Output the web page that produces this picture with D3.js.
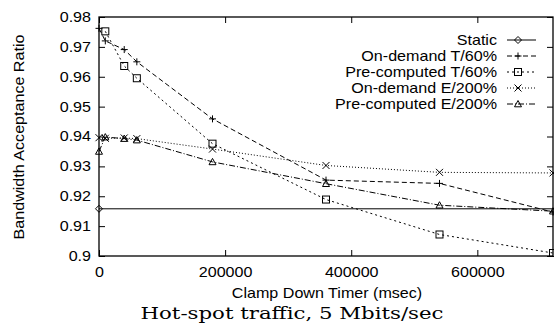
<!DOCTYPE html>
<html><head><meta charset="utf-8">
<script src="https://cdn.jsdelivr.net/npm/d3@7"></script>
<style>body{margin:0;background:#fff}svg{display:block}</style>
</head><body><div id="c"></div>
<script>
const xTicks = [0, 200000, 400000, 600000];
const yTicks = [0.9, 0.91, 0.92, 0.93, 0.94, 0.95, 0.96, 0.97, 0.98];
const seriesNames = ["Static", "On-demand T/60%", "Pre-computed T/60%", "On-demand E/200%", "Pre-computed E/200%"];
const staticX = [0, 720000];
const staticY = [0.9158, 0.9158];
const odTX = [0, 10000, 40000, 60000, 180000, 360000, 540000, 720000];
const odTY = [0.9762, 0.9720, 0.9691, 0.9650, 0.9459, 0.9254, 0.9243, 0.9147];
const pcTX = [10000, 40000, 60000, 180000, 360000, 540000, 720000];
const pcTY = [0.9752, 0.9636, 0.9595, 0.9376, 0.9189, 0.9072, 0.9010];
const odEX = [0, 10000, 40000, 60000, 180000, 360000, 540000, 720000];
const odEY = [0.9396, 0.9394, 0.9395, 0.9393, 0.9358, 0.9303, 0.9280, 0.9278];
const pcEX = [0, 10000, 40000, 60000, 180000, 360000, 540000, 720000];
const pcEY = [0.9350, 0.9398, 0.9393, 0.9388, 0.9315, 0.9242, 0.9170, 0.9150];

const W = 554, H = 328;
const m = {l: 99, r: 1, t: 17, b: 72};
const svg = d3.select("#c").append("svg").attr("width", W).attr("height", H);
const x = d3.scaleLinear().domain([0, 720000]).range([m.l, W - m.r]);
const y = d3.scaleLinear().domain([0.9, 0.98]).range([H - m.b, m.t]);
const font = "Liberation Sans, Arial, sans-serif";
const FS = 14, SX = 1.15;

// axes with inward ticks, mirrored
const tl = 6;
const ax = svg.append("g");
const gx = ax.append("g").attr("transform", `translate(0,${y(0.9)})`)
  .call(d3.axisBottom(x).tickValues(xTicks).tickSizeInner(-tl).tickSizeOuter(0).tickPadding(11).tickFormat(d3.format("d")));
ax.append("g").attr("transform", `translate(0,${y(0.98)})`)
  .call(d3.axisTop(x).tickValues(xTicks).tickSizeInner(-tl).tickSizeOuter(0).tickFormat(""));
const gy = ax.append("g").attr("transform", `translate(${x(0)},0)`)
  .call(d3.axisLeft(y).tickValues(yTicks).tickSizeInner(-tl).tickSizeOuter(0).tickPadding(8).tickFormat(d => String(+d.toFixed(2))));
ax.append("g").attr("transform", `translate(${x(720000)},0)`)
  .call(d3.axisRight(y).tickValues(yTicks).tickSizeInner(-tl).tickSizeOuter(0).tickFormat(""));
ax.selectAll(".domain").remove();
ax.selectAll("text").attr("fill", "#000").attr("font-family", font).attr("font-size", FS);
ax.selectAll("line").attr("stroke", "#000");
// stretch tick labels horizontally
gx.selectAll(".tick text").attr("transform", `scale(${SX},1)`);
gy.selectAll(".tick text").attr("x", -8 / SX).attr("transform", `scale(${SX},1)`);
svg.append("rect").attr("x", x(0)).attr("y", y(0.98)).attr("width", x(720000) - x(0)).attr("height", y(0.9) - y(0.98))
  .attr("fill", "none").attr("stroke", "#000").attr("stroke-width", 1.3);

// labels
svg.append("text").attr("transform", `translate(327,298) scale(${SX},1)`).attr("text-anchor", "middle").attr("font-family", font).attr("font-size", FS).text("Clamp Down Timer (msec)");
svg.append("text").attr("transform", `translate(24,137) rotate(-90) scale(${SX},1)`).attr("text-anchor", "middle").attr("font-family", font).attr("font-size", FS).text("Bandwidth Acceptance Ratio");
svg.append("text").attr("x", 292).attr("y", 319).attr("text-anchor", "middle").attr("font-family", "DejaVu Serif, Liberation Serif, serif").attr("font-size", 17)
  .attr("textLength", 303).attr("lengthAdjust", "spacingAndGlyphs").text("Hot-spot traffic, 5 Mbits/sec");

const dashes = [null, "5,3", "2,3", "1,2", "6,2,1,2"];
const data = [
  {xs: staticX, ys: staticY, marks: [0]},
  {xs: odTX, ys: odTY},
  {xs: pcTX, ys: pcTY},
  {xs: odEX, ys: odEY},
  {xs: pcEX, ys: pcEY}
];

function marker(g, type, cx, cy) {
  const s = 3.5;
  if (type === 0) g.append("path").attr("d", `M${cx-s},${cy}L${cx},${cy-s}L${cx+s},${cy}L${cx},${cy+s}Z`).attr("fill", "none").attr("stroke", "#000");
  else if (type === 1) g.append("path").attr("d", `M${cx-s},${cy}H${cx+s}M${cx},${cy-s}V${cy+s}`).attr("stroke", "#000");
  else if (type === 2) g.append("rect").attr("x", cx - s).attr("y", cy - s).attr("width", 2*s).attr("height", 2*s).attr("fill", "none").attr("stroke", "#000");
  else if (type === 3) g.append("path").attr("d", `M${cx-s},${cy-s}L${cx+s},${cy+s}M${cx-s},${cy+s}L${cx+s},${cy-s}`).attr("stroke", "#000");
  else g.append("path").attr("d", `M${cx-s},${cy+s*0.8}L${cx},${cy-s}L${cx+s},${cy+s*0.8}Z`).attr("fill", "none").attr("stroke", "#000");
}

const line = d3.line().x(d => x(d[0])).y(d => y(d[1]));
const plot = svg.append("g");
data.forEach((s, i) => {
  const pts = s.xs.map((v, k) => [v, s.ys[k]]);
  plot.append("path").attr("d", line(pts)).attr("fill", "none").attr("stroke", "#000").attr("stroke-width", 1)
    .attr("stroke-dasharray", dashes[i]);
  const mk = s.marks ? s.marks.map(k => pts[k]) : pts;
  mk.forEach(p => marker(plot, i, x(p[0]), y(p[1])));
});

// legend
const lg = svg.append("g");
seriesNames.forEach((n, i) => {
  const yy = 40 + i * 16;
  lg.append("text").attr("transform", `translate(497,${yy}) scale(${SX},1)`).attr("dy", "0.35em").attr("text-anchor", "end")
    .attr("font-family", font).attr("font-size", FS).text(n);
  lg.append("line").attr("x1", 507).attr("x2", 536).attr("y1", yy).attr("y2", yy).attr("stroke", "#000").attr("stroke-dasharray", dashes[i]);
  marker(lg, i, 518, yy);
});
</script></body></html>
